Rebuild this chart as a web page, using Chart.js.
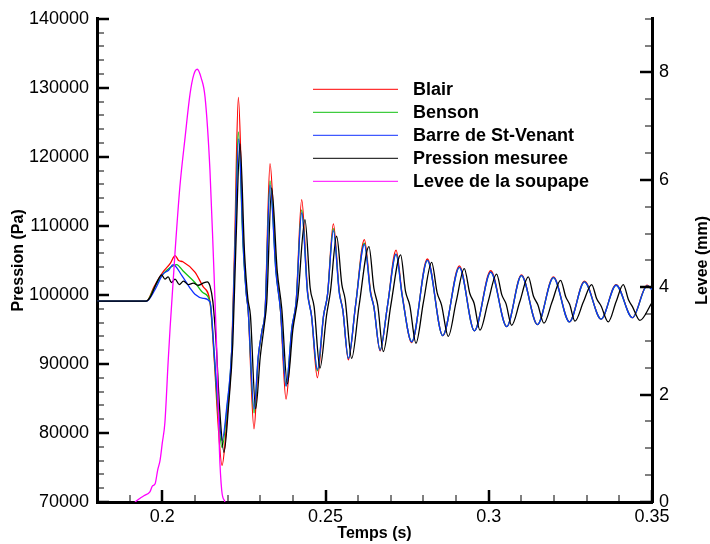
<!DOCTYPE html>
<html>
<head>
<meta charset="utf-8">
<script src="https://cdn.jsdelivr.net/npm/chart.js@4.4.0/dist/chart.umd.min.js"></script>
<style>
  body { margin: 0; background: #fff; }
  canvas { display: block; }
</style>
</head>
<body>
<canvas id="myChart" width="710" height="544"></canvas>
<script>
// graduations des axes
const timeTicks = [0.2, 0.25, 0.3, 0.35];
const pressureTicks = [70000, 80000, 90000, 100000, 110000, 120000, 130000, 140000];
const leveeTicks = [0, 2, 4, 6, 8];

// series : [temps (s), valeur]
const blair = [
  [0.1800, 99100], [0.1952, 99100], [0.1975, 101200], [0.2002, 103300], [0.2025, 104600],
  [0.2039, 105700], [0.2050, 105000], [0.2063, 104800], [0.2100, 103300], [0.2125, 101200],
  [0.2146, 99000], [0.2160, 90000], [0.2170, 82000], [0.2183, 75300], [0.2198, 82000],
  [0.2213, 92300], [0.2222, 108000], [0.2233, 128600], [0.2247, 109000], [0.2257, 100500],
  [0.2263, 97800], [0.2281, 80600], [0.2294, 90800], [0.2305, 94700], [0.2315, 97800],
  [0.2330, 119000], [0.2348, 104000], [0.2362, 97800], [0.2379, 84900], [0.2397, 95000],
  [0.2410, 99000], [0.2427, 113800], [0.2445, 100500], [0.2457, 97000], [0.2475, 88000],
  [0.2494, 97000], [0.2506, 100000], [0.2524, 110300], [0.2542, 100600], [0.2553, 97800],
  [0.2570, 90600], [0.2592, 98500], [0.2619, 108000], [0.2638, 100500], [0.2648, 98300],
  [0.2667, 91900], [0.2690, 98500], [0.2716, 106500], [0.2735, 100000], [0.2764, 93100],
  [0.2812, 105200], [0.2859, 94100], [0.2910, 104200], [0.2956, 94800], [0.3006, 103500],
  [0.3055, 95400], [0.3100, 102900], [0.3149, 95700], [0.3198, 102600], [0.3247, 96100],
  [0.3293, 102000], [0.3344, 96500], [0.3390, 101500], [0.3440, 96700], [0.3485, 101400],
  [0.3500, 100800]
];
const benson = [
  [0.1800, 99100], [0.1952, 99100], [0.1975, 101000], [0.2002, 103000], [0.2025, 104000],
  [0.2044, 104400], [0.2063, 103500], [0.2100, 101800], [0.2125, 100300], [0.2146, 99000],
  [0.2160, 90500], [0.2170, 83500], [0.2183, 77900], [0.2198, 83500], [0.2213, 92300],
  [0.2222, 106000], [0.2233, 123600], [0.2247, 107500], [0.2257, 100300], [0.2263, 97800],
  [0.2281, 82900], [0.2294, 91000], [0.2305, 94700], [0.2315, 97800], [0.2330, 116500],
  [0.2348, 103500], [0.2362, 97800], [0.2379, 86800], [0.2397, 95300], [0.2410, 99000],
  [0.2427, 112300], [0.2445, 100300], [0.2457, 97000], [0.2475, 89000], [0.2494, 97000],
  [0.2506, 100000], [0.2524, 109600], [0.2542, 100400], [0.2553, 97800], [0.2570, 90800],
  [0.2592, 98500], [0.2619, 107500], [0.2638, 100300], [0.2648, 98300], [0.2667, 92000],
  [0.2690, 98500], [0.2716, 105900], [0.2735, 99800], [0.2764, 93200], [0.2812, 105000],
  [0.2859, 94100], [0.2910, 104000], [0.2956, 94800], [0.3006, 103300], [0.3055, 95400],
  [0.3100, 102800], [0.3149, 95700], [0.3198, 102500], [0.3247, 96100], [0.3293, 101900],
  [0.3344, 96500], [0.3390, 101400], [0.3440, 96700], [0.3485, 101300], [0.3500, 100800]
];
const barreStVenant = [
  [0.1800, 99100], [0.1952, 99100], [0.1978, 100800], [0.2002, 103000], [0.2020, 103600],
  [0.2033, 104400], [0.2060, 102800], [0.2085, 101000], [0.2100, 100100], [0.2125, 99500],
  [0.2146, 99000], [0.2160, 91000], [0.2170, 84500], [0.2183, 78900], [0.2198, 84000],
  [0.2213, 92300], [0.2222, 105500], [0.2234, 122600], [0.2248, 107000], [0.2257, 100300],
  [0.2263, 97800], [0.2281, 83500], [0.2294, 91200], [0.2305, 94700], [0.2315, 97800],
  [0.2330, 115900], [0.2348, 103300], [0.2362, 97800], [0.2379, 86800], [0.2397, 95300],
  [0.2410, 99000], [0.2427, 111900], [0.2445, 100200], [0.2457, 97000], [0.2475, 89200],
  [0.2494, 97000], [0.2506, 100000], [0.2524, 109300], [0.2542, 100300], [0.2553, 97800],
  [0.2570, 90800], [0.2592, 98500], [0.2619, 107300], [0.2638, 100200], [0.2648, 98300],
  [0.2667, 92000], [0.2690, 98500], [0.2716, 105900], [0.2735, 99800], [0.2764, 93200],
  [0.2812, 105000], [0.2859, 94100], [0.2910, 104000], [0.2956, 94800], [0.3006, 103300],
  [0.3055, 95400], [0.3100, 102800], [0.3149, 95700], [0.3198, 102500], [0.3247, 96100],
  [0.3293, 101900], [0.3344, 96500], [0.3390, 101400], [0.3440, 96700], [0.3485, 101300],
  [0.3500, 100800]
];
const pressionMesuree = [
  [0.1800, 99100], [0.1950, 99100], [0.1962, 99600], [0.1985, 102000], [0.1998, 102900],
  [0.2008, 102300], [0.2018, 102600], [0.2028, 101800], [0.2039, 102300], [0.2052, 101500],
  [0.2065, 102000], [0.2080, 101500], [0.2095, 101700], [0.2110, 101400], [0.2125, 101700],
  [0.2138, 101900], [0.2146, 101300], [0.2155, 99000], [0.2165, 93000], [0.2175, 84000],
  [0.2189, 77200], [0.2203, 84000], [0.2216, 93000], [0.2226, 108000], [0.2238, 121900],
  [0.2252, 106000], [0.2262, 99500], [0.2270, 97000], [0.2286, 83500], [0.2300, 91000],
  [0.2312, 95500], [0.2320, 99000], [0.2335, 115500], [0.2352, 103500], [0.2366, 98000],
  [0.2383, 87100], [0.2400, 95000], [0.2415, 99500], [0.2437, 110900], [0.2453, 101000],
  [0.2465, 98300], [0.2483, 89400], [0.2503, 97000], [0.2515, 100500], [0.2534, 108500],
  [0.2550, 101500], [0.2560, 99400], [0.2580, 90800], [0.2603, 98500], [0.2633, 107000],
  [0.2648, 101000], [0.2660, 98500], [0.2677, 91800], [0.2700, 98500], [0.2730, 105800],
  [0.2745, 100500], [0.2758, 98500], [0.2777, 93000], [0.2800, 99000], [0.2825, 104700],
  [0.2842, 100300], [0.2855, 98600], [0.2876, 94000], [0.2900, 99000], [0.2925, 103800],
  [0.2942, 100200], [0.2955, 98800], [0.2973, 94900], [0.2998, 99000], [0.3024, 103000],
  [0.3040, 100000], [0.3053, 98700], [0.3070, 95600], [0.3095, 99000], [0.3121, 102600],
  [0.3137, 99800], [0.3150, 98600], [0.3169, 95900], [0.3194, 99000], [0.3220, 102100],
  [0.3236, 99700], [0.3248, 98600], [0.3264, 96200], [0.3290, 99000], [0.3315, 101500],
  [0.3331, 99400], [0.3344, 98400], [0.3366, 96100], [0.3390, 99000], [0.3412, 101500],
  [0.3428, 99300], [0.3440, 98300], [0.3463, 96300], [0.3500, 98900]
];
const leveeSoupape = [
  [0.1916, 0], [0.1932, 0.07], [0.1945, 0.12], [0.1962, 0.19], [0.1970, 0.30],
  [0.1978, 0.34], [0.1986, 0.60], [0.1993, 0.77], [0.2000, 1.10], [0.2008, 1.48],
  [0.2018, 2.62], [0.2024, 3.25], [0.2039, 4.65], [0.2054, 5.88], [0.2070, 6.80],
  [0.2085, 7.60], [0.2096, 7.95], [0.2107, 8.06], [0.2119, 7.90], [0.2131, 7.54],
  [0.2146, 6.18], [0.2156, 4.65], [0.2167, 2.80], [0.2175, 0.96], [0.2182, 0.22],
  [0.2192, 0]
];

const seriesNames = ['Blair', 'Benson', 'Barre de St-Venant', 'Pression mesuree', 'Levee de la soupape'];
const seriesColors = ['#ff0000', '#10c010', '#1030ff', '#000000', '#ff00ff'];

Chart.defaults.font.family = "'Liberation Sans', Arial, sans-serif";
Chart.defaults.color = '#000';

const toXY = arr => arr.map(p => ({ x: p[0], y: p[1] }));
const allSeries = [blair, benson, barreStVenant, pressionMesuree, leveeSoupape];

// graduations vers l'interieur + mineures
const inwardTicks = {
  id: 'inwardTicks',
  afterDatasetsDraw(chart) {
    const { ctx, chartArea: a, scales } = chart;
    ctx.save();
    ctx.strokeStyle = '#000';
    const line = (x0, y0, x1, y1, w) => {
      ctx.lineWidth = w;
      ctx.beginPath(); ctx.moveTo(x0, y0); ctx.lineTo(x1, y1); ctx.stroke();
    };
    for (let i = 18; i <= 35; i++) {
      const px = Math.round(scales.x.getPixelForValue(i / 100));
      const major = i % 5 === 0;
      line(px, a.bottom, px, a.bottom - (major ? 12 : 7), major ? 2.5 : 1);
    }
    for (let v = 70000; v <= 140000; v += 2000) {
      const py = Math.round(scales.y.getPixelForValue(v));
      const major = v % 10000 === 0;
      line(a.left, py, a.left + (major ? 12 : 7), py, major ? 2.5 : 1);
    }
    for (let k = 0; k <= 18; k++) {
      const py = Math.round(scales.y1.getPixelForValue(k / 2));
      const major = k % 4 === 0;
      line(a.right, py, a.right - (major ? 12 : 7), py, major ? 2.5 : 1);
    }
    ctx.restore();
  }
};

// titre de l'axe de droite (lu de bas en haut) et legende dans le graphe
const extras = {
  id: 'extras',
  afterDraw(chart) {
    const { ctx, chartArea: a } = chart;
    ctx.save();
    ctx.fillStyle = '#000';
    ctx.font = "bold 16px 'Liberation Sans', Arial, sans-serif";
    ctx.textAlign = 'center';
    ctx.textBaseline = 'middle';
    ctx.translate(703, (a.top + a.bottom) / 2);
    ctx.rotate(-Math.PI / 2);
    ctx.fillText('Levee (mm)', 0, 0);
    ctx.restore();

    ctx.save();
    ctx.font = "bold 18px 'Liberation Sans', Arial, sans-serif";
    ctx.textAlign = 'left';
    ctx.textBaseline = 'middle';
    chart.data.datasets.forEach((ds, i) => {
      const y = a.top + 70 + i * 23;
      ctx.strokeStyle = ds.borderColor;
      ctx.lineWidth = 1;
      ctx.beginPath(); ctx.moveTo(a.left + 216, y + 0.5); ctx.lineTo(a.left + 301, y + 0.5); ctx.stroke();
      ctx.fillStyle = '#000';
      ctx.fillText(ds.label, a.left + 316, y + 1);
    });
    ctx.restore();
  }
};

const ctx = document.getElementById('myChart');
new Chart(ctx, {
  type: 'line',
  data: {
    datasets: allSeries.map((s, i) => ({
      label: seriesNames[i],
      data: toXY(s),
      borderColor: seriesColors[i],
      borderWidth: 1.3,
      yAxisID: i === 4 ? 'y1' : 'y',
      order: 5 - i
    }))
  },
  options: {
    responsive: false,
    animation: false,
    layout: { padding: { top: 14, left: 0, right: 0, bottom: 0 } },
    elements: {
      point: { radius: 0 },
      line: { cubicInterpolationMode: 'monotone' }
    },
    plugins: { legend: { display: false }, tooltip: { enabled: false } },
    scales: {
      x: {
        type: 'linear', min: 0.18, max: 0.35,
        afterBuildTicks: s => { s.ticks = timeTicks.map(v => ({ value: v })); },
        afterFit: s => { s.height = 42; },
        ticks: { font: { size: 18 }, padding: 4, maxRotation: 0, callback: v => String(+v.toFixed(2)) },
        grid: { display: false, drawTicks: false },
        border: { display: true, width: 3, color: '#000' },
        title: { display: true, text: 'Temps (s)', font: { size: 16, weight: 'bold' }, padding: { top: 0, bottom: 1 } }
      },
      y: {
        position: 'left', min: 70000, max: 140000,
        afterBuildTicks: s => { s.ticks = pressureTicks.map(v => ({ value: v })); },
        afterFit: s => { s.width = 97; },
        ticks: { font: { size: 18 }, padding: 8, callback: v => String(v) },
        grid: { display: false, drawTicks: false },
        border: { display: true, width: 3, color: '#000' },
        title: { display: true, text: 'Pression (Pa)', font: { size: 16, weight: 'bold' }, padding: { top: 9, bottom: 0 } }
      },
      y1: {
        position: 'right', min: 0, max: 9,
        afterBuildTicks: s => { s.ticks = leveeTicks.map(v => ({ value: v })); },
        afterFit: s => { s.width = 58; },
        ticks: { font: { size: 18 }, padding: 7, callback: v => String(v) },
        grid: { display: false, drawTicks: false },
        border: { display: true, width: 3, color: '#000' }
      }
    }
  },
  plugins: [inwardTicks, extras]
});
</script>
</body>
</html>
